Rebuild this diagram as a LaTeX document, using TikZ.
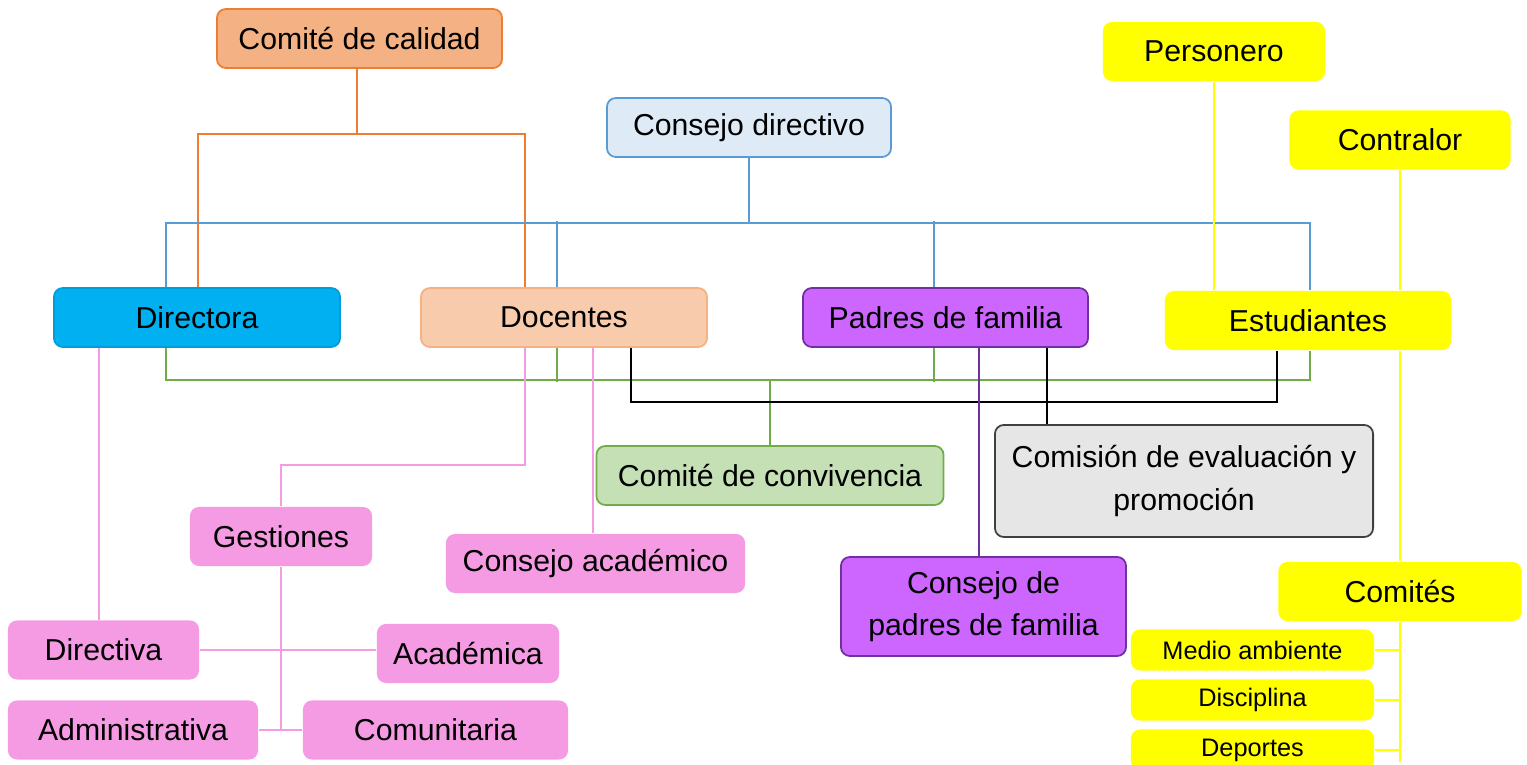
\documentclass[tikz,border=0pt]{standalone}
\usepackage{fontspec}
\setmainfont{Liberation Sans}

\definecolor{naranja}{HTML}{F4B183}
\definecolor{naranjaosc}{HTML}{ED7D31}
\definecolor{melocoton}{HTML}{F8CBAD}
\definecolor{celeste}{HTML}{DEEBF7}
\definecolor{azul}{HTML}{5B9BD5}
\definecolor{cian}{HTML}{00B0F0}
\definecolor{morado}{HTML}{CC66FF}
\definecolor{moradoosc}{HTML}{7030A0}
\definecolor{amarillo}{HTML}{FFFF00}
\definecolor{verdeclaro}{HTML}{C5E0B4}
\definecolor{verde}{HTML}{70AD47}
\definecolor{gris}{HTML}{E7E6E6}
\definecolor{rosa}{HTML}{F59BE3}

\begin{document}
\begin{tikzpicture}[x=0.01cm, y=-0.01cm, line width=0.5pt,
  caja/.style={rounded corners=0.9mm, inner sep=0pt, minimum height=0.59cm,
    align=center, font=\fontsize{8.6}{12}\selectfont},
  chica/.style={caja, minimum height=0.41cm, font=\fontsize{7.2}{8}\selectfont}]

\useasboundingbox (0,0) rectangle (1527,765);

% cajas de arriba
\node[caja, fill=naranja, draw=naranjaosc, minimum width=2.85cm] (cal) at (359.5,38.5) {Comité de calidad};
\node[caja, fill=celeste, draw=azul, minimum width=2.84cm] (cdir) at (749,127.5) {Consejo directivo};
\node[caja, fill=amarillo, minimum width=2.22cm] (pers) at (1214,51.5) {Personero};
\node[caja, fill=amarillo, minimum width=2.21cm] (contr) at (1400,140) {Contralor};

% fila principal
\node[caja, fill=cian, draw=cian!90!black, minimum width=2.86cm] (dir) at (197,317.5) {Directora};
\node[caja, fill=melocoton, draw=naranja, minimum width=2.86cm] (doc) at (564,317.5) {Docentes};
\node[caja, fill=morado, draw=moradoosc, minimum width=2.85cm] (pad) at (945.5,317.5) {Padres de familia};
\node[caja, fill=amarillo, minimum width=2.86cm] (est) at (1308,320.5) {Estudiantes};

% comites y consejos
\node[caja, fill=verdeclaro, draw=verde, minimum width=3.47cm] (conv) at (770,475.5) {Comité de convivencia};
\node[caja, fill=gris, draw=black!75, minimum width=3.78cm, minimum height=1.12cm] (eval) at (1184,481) {Comisión de evaluación y\\promoción};
\node[caja, fill=rosa, minimum width=1.82cm] (ges) at (281,536.5) {Gestiones};
\node[caja, fill=rosa, minimum width=2.99cm] (acad) at (595.5,563.5) {Consejo académico};
\node[caja, fill=morado, draw=moradoosc, minimum width=2.85cm, minimum height=0.99cm] (cpad) at (983.5,606.5) {Consejo de\\padres de familia};
\node[caja, fill=amarillo, minimum width=2.43cm] (comi) at (1400,591.5) {Comités};
\node[chica, fill=amarillo, minimum width=2.43cm] (medio) at (1252.5,650) {Medio ambiente};
\node[chica, fill=amarillo, minimum width=2.43cm] (disc) at (1252.5,700) {Disciplina};
\node[chica, fill=amarillo, minimum width=2.43cm] (dep) at (1252.5,750) {Deportes};

% gestiones
\node[caja, fill=rosa, minimum width=1.91cm] (dva) at (103.5,650) {Directiva};
\node[caja, fill=rosa, minimum width=1.82cm] (acm) at (468,653.5) {Académica};
\node[caja, fill=rosa, minimum width=2.50cm] (adm) at (133,730) {Administrativa};
\node[caja, fill=rosa, minimum width=2.65cm] (com) at (435.5,730) {Comunitaria};

% lineas naranja
\draw[naranjaosc] (cal.south -| 357,0) -- ++(0,65) coordinate (calj);
\draw[naranjaosc] (dir.north -| 198,0) |- (calj) -| (doc.north -| 525,0);

% lineas azules
\draw[azul] (cdir.south) -- ++(0,65) coordinate (cdirj);
\draw[azul] (dir.north -| 166,0) |- (cdirj) -| (est.north -| 1310,0);
\draw[azul] (doc.north -| 557,0) -- ++(0,-66);
\draw[azul] (pad.north -| 934,0) -- ++(0,-66);

% lineas amarillas
\draw[amarillo] (pers.south) -- (pers.south |- est.north);
\draw[amarillo] (contr.south) -- (contr.south |- est.north);
\draw[amarillo] (comi.north |- est.south) -- (comi.north);
\draw[amarillo] (comi.south) -- ++(0,140);
\draw[amarillo] (medio.east) -- (medio.east -| comi.south);
\draw[amarillo] (disc.east) -- (disc.east -| comi.south);
\draw[amarillo] (dep.east) -- (dep.east -| comi.south);

% lineas verdes
\draw[verde] (conv.north) -- ++(0,-65) coordinate (convj);
\draw[verde] (dir.south -| 166,0) |- (convj) -| (est.south -| 1310,0);
\draw[verde] (doc.south -| 557,0) -- ++(0,34);
\draw[verde] (pad.south -| 934,0) -- ++(0,34);

% lineas negras
\draw (doc.south -| 631,0) -- ++(0,54) -| (est.south -| 1277,0);
\draw (pad.south -| 1047,0) -- (eval.north -| 1047,0);

% linea morada
\draw[moradoosc] (pad.south -| 979,0) -- (cpad.north -| 979,0);

% lineas rosadas
\draw[rosa] (dir.south -| 99,0) -- (dva.north -| 99,0);
\draw[rosa] (doc.south -| 525,0) -- ++(0,117) -| (ges.north);
\draw[rosa] (doc.south -| 593,0) -- (acad.north -| 593,0);
\draw[rosa] (ges.south) -- (ges.south |- adm.east);
\draw[rosa] (dva.east) -- (acm.west |- dva.east);
\draw[rosa] (adm.east) -- (com.west);

\end{tikzpicture}
\end{document}
